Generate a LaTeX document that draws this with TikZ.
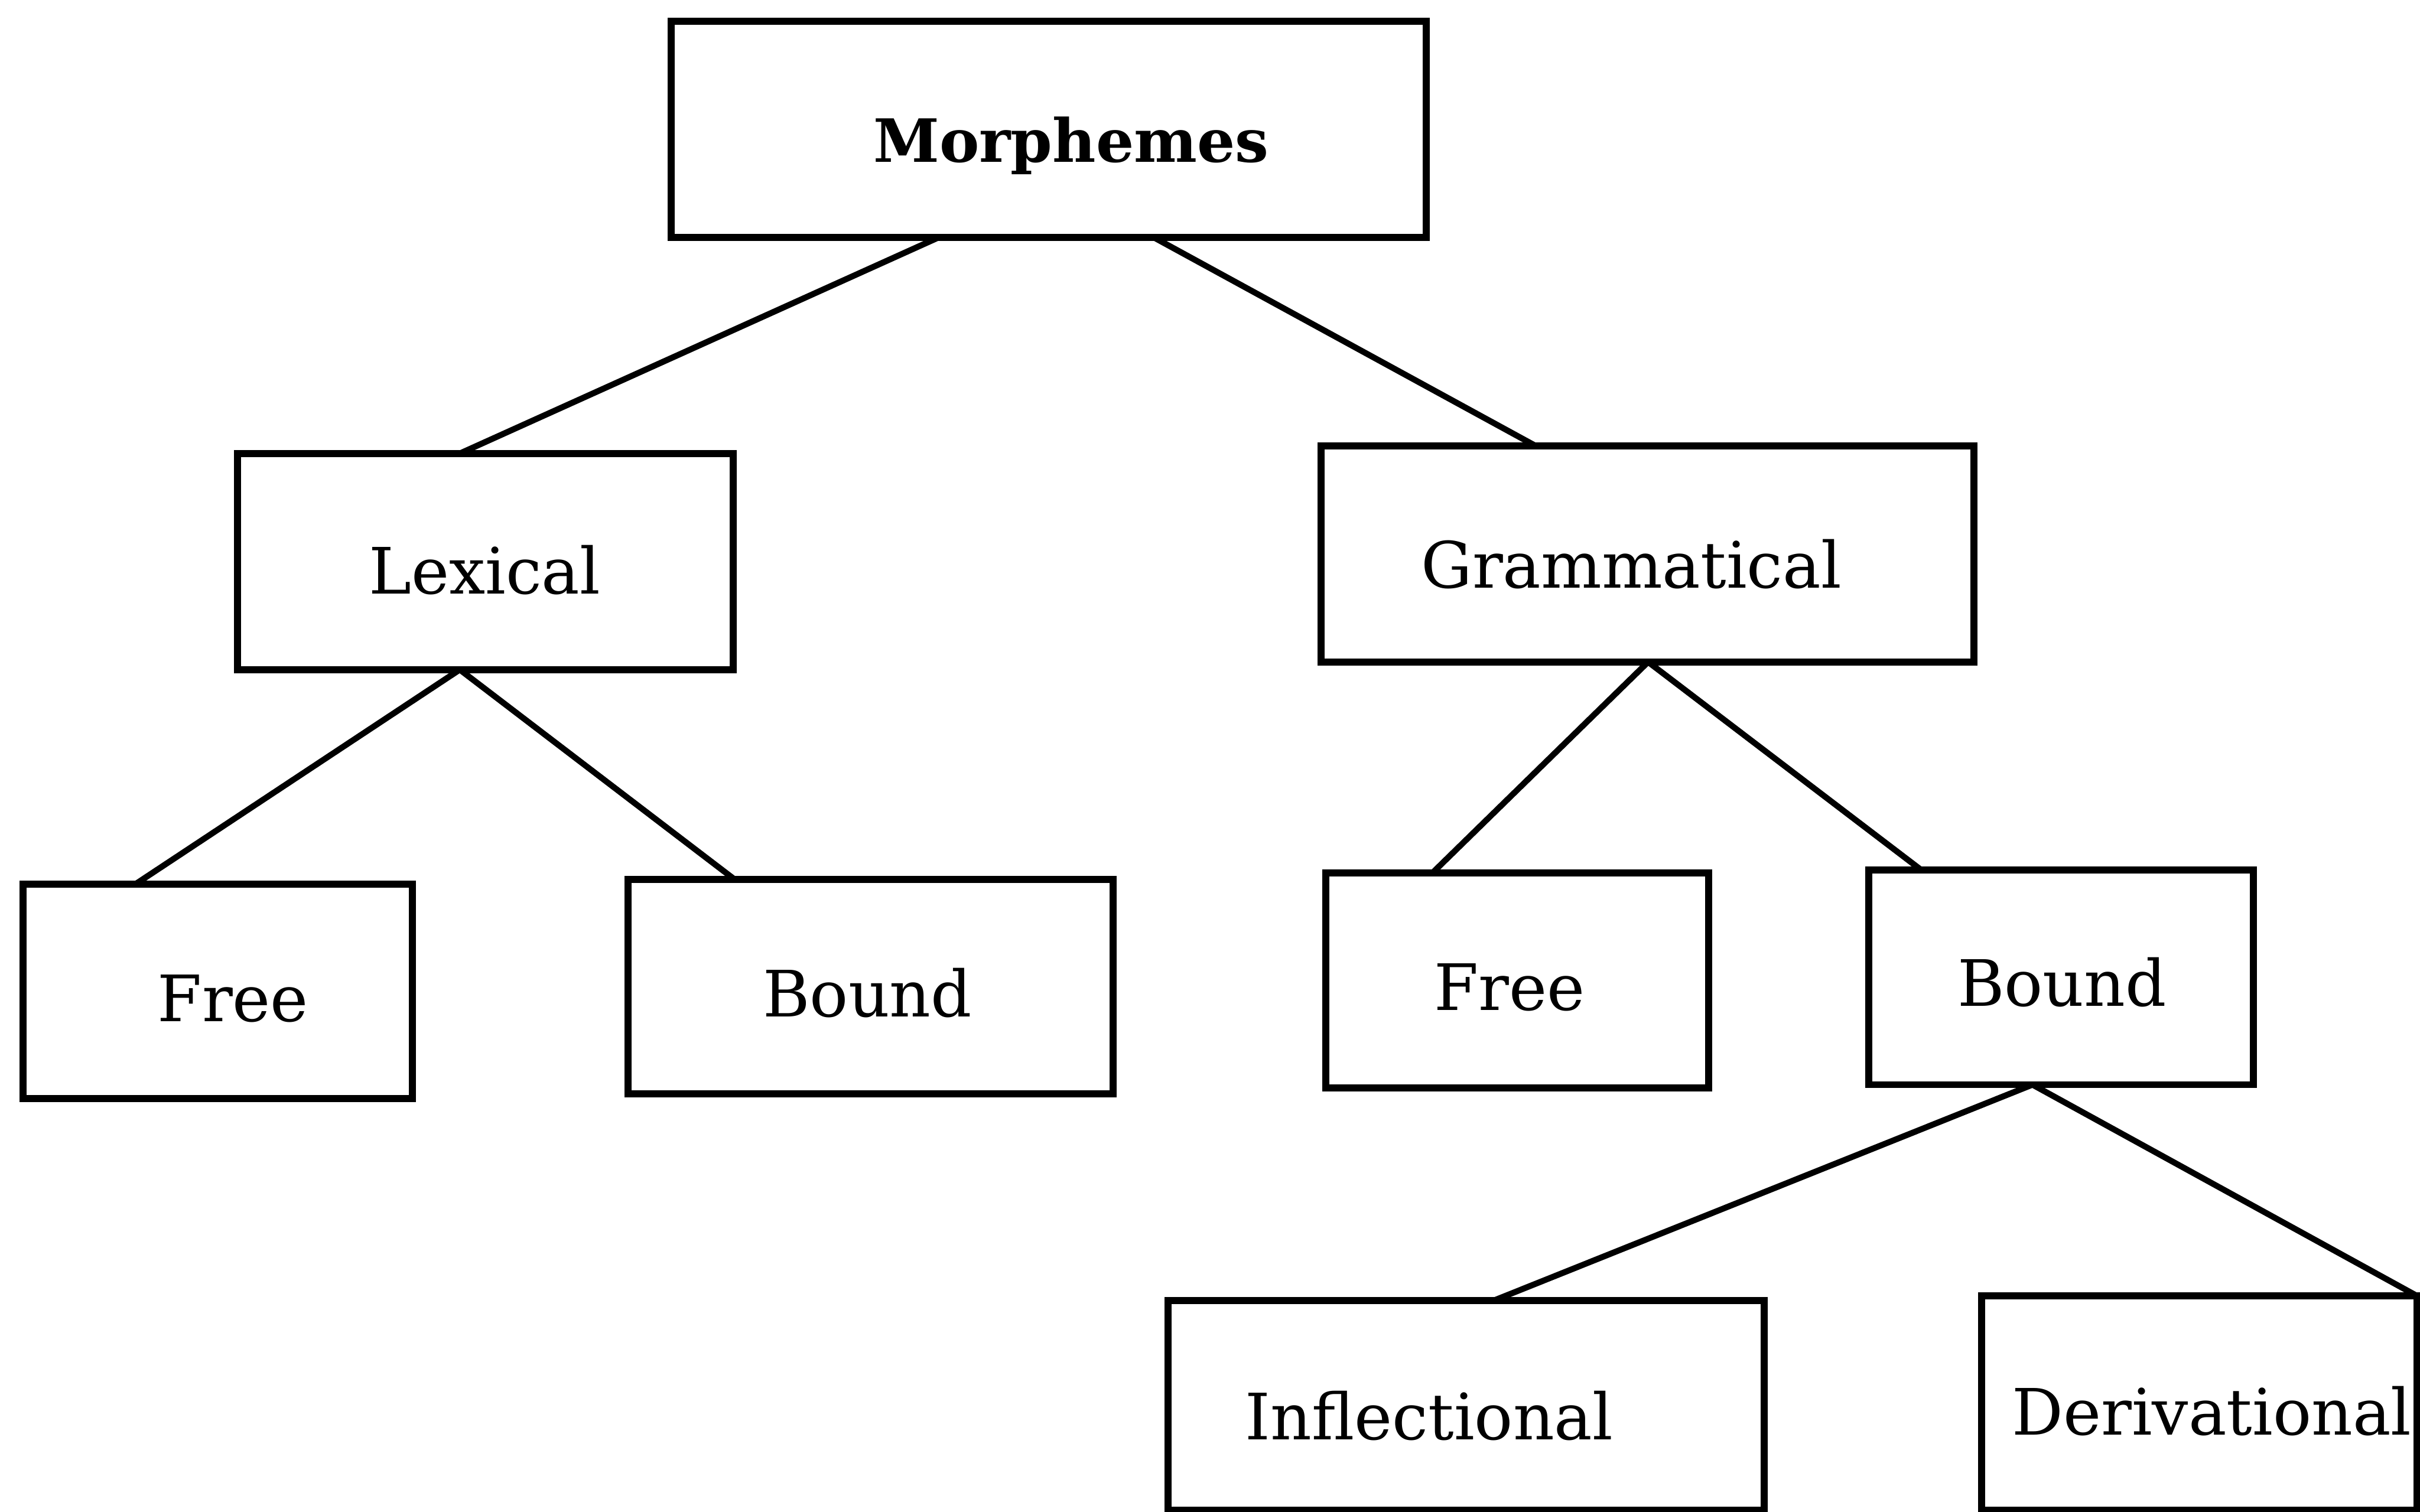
\documentclass[tikz,border=0pt]{standalone}
\usepackage{fontspec}
\setmainfont{DejaVu Serif}
\usetikzlibrary{calc}
\begin{document}
\begin{tikzpicture}[x=0.01cm, y=-0.01cm,
  box/.style={draw, line width=1.3pt, inner sep=0pt, outer sep=0pt, minimum height=1.39cm},
  link/.style={line width=1.1pt},
  lbl/.style={anchor=base, inner sep=0pt, font=\fontsize{11.8}{14}\selectfont}]
\useasboundingbox (0,0) rectangle (1568,980);

% boxes
\node[box, minimum width=4.89cm, minimum height=1.40cm] (morph)  at (679.5,84) {};
\node[box, minimum width=3.21cm, minimum height=1.40cm] (lex)    at (314.5,364) {};
\node[box, minimum width=4.23cm, minimum height=1.40cm] (gram)   at (1067.5,359) {};
\node[box, minimum width=2.52cm] (freeL)  at (141,642.5) {};
\node[box, minimum width=3.14cm] (boundL) at (564,639.5) {};
\node[box, minimum width=2.48cm] (freeR)  at (983,635.5) {};
\node[box, minimum width=2.49cm] (boundR) at (1335.5,633.5) {};
\node[box, minimum width=3.86cm, minimum height=1.36cm] (infl)  at (950,911) {};
\node[box, minimum width=2.82cm] (deriv) at (1425,909.5) {};

% labels
\node[lbl, font=\fontsize{11}{14}\selectfont\bfseries] (tmorph) at (694,105) {Morphemes};
\node[lbl] (tlex)    at (314,385) {Lexical};
\node[lbl] (tgram)   at (1057,381) {Grammatical};
\node[lbl] (tfreeL)  at (151,662) {Free};
\node[lbl] (tboundL) at (562,659) {Bound};
\node[lbl] (tfreeR)  at (978,655) {Free};
\node[lbl] (tboundR) at (1336,652) {Bound};
\node[lbl] (tinfl)   at (926,933) {Inflectional};
\node[lbl] (tderiv)  at (1433,930) {Derivational};

% connectors
\draw[link] ($(morph.south west)+(173,0)$) -- ($(lex.north west)+(144,0)$);
\draw[link] ($(morph.south west)+(313,0)$) -- ($(gram.north west)+(139,0)$);
\draw[link] ($(lex.south west)+(144,0)$) -- ($(freeL.north west)+(73,0)$);
\draw[link] ($(lex.south west)+(144,0)$) -- ($(boundL.north west)+(69,0)$);
\draw[link] ($(gram.south west)+(212,0)$) -- ($(freeR.north west)+(69,0)$);
\draw[link] ($(gram.south west)+(212,0)$) -- ($(boundR.north west)+(34,0)$);
\draw[link] ($(boundR.south west)+(106,0)$) -- ($(infl.north west)+(211,0)$);
\draw[link] ($(boundR.south west)+(106,0)$) -- (deriv.north east);
\end{tikzpicture}
\end{document}
